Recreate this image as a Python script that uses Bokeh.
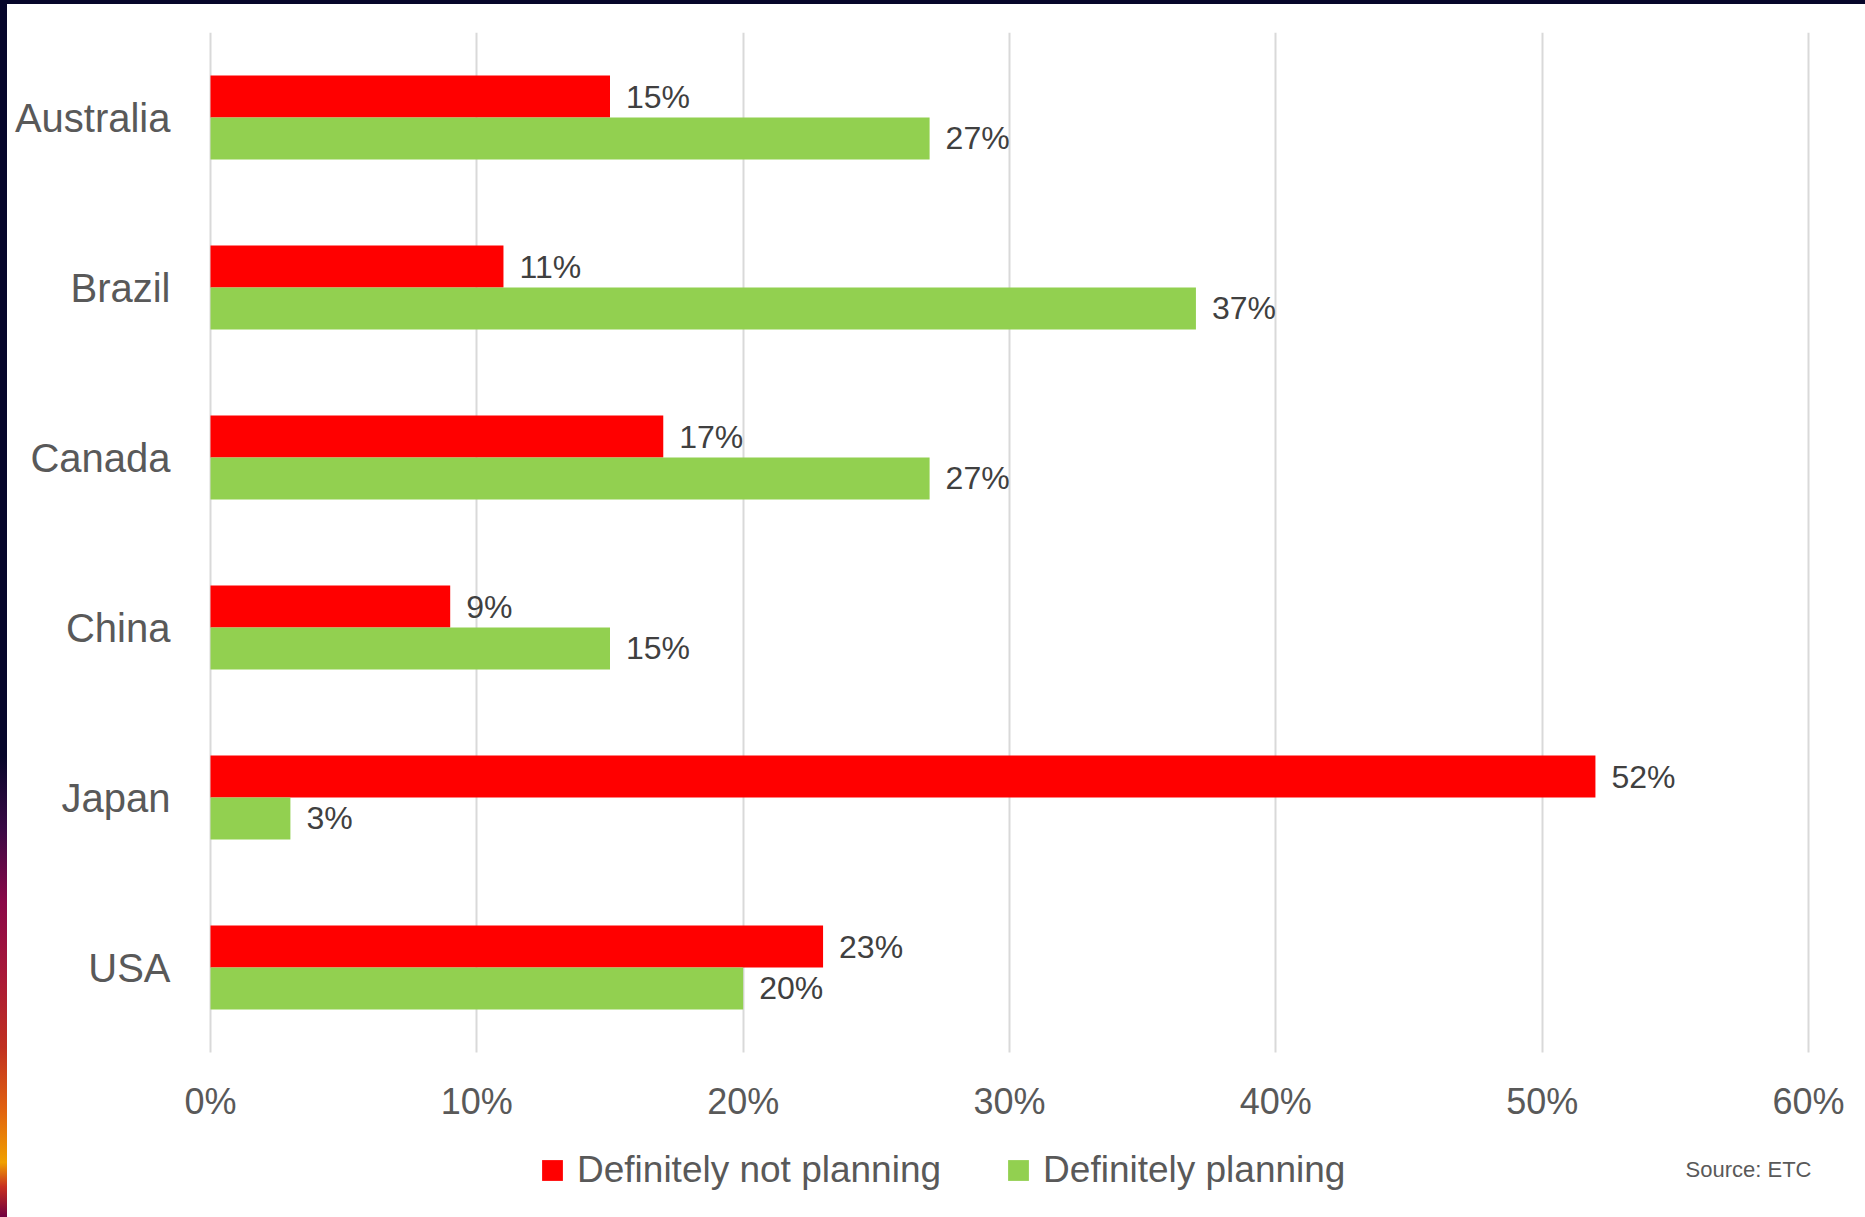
from bokeh.plotting import figure
from bokeh.models import (Range1d, Legend, LegendItem, Label, ColumnDataSource,
                          NumeralTickFormatter, FixedTicker, Div, BoxAnnotation)
from bokeh.embed import file_html
from bokeh.resources import INLINE
from bokeh.core.properties import value
from bokeh.layouts import column, row

# Survey shares per market
countries = ["Australia", "Brazil", "Canada", "China", "Japan", "USA"]
not_planning = [0.15, 0.11, 0.17, 0.09, 0.52, 0.23]
planning = [0.27, 0.37, 0.27, 0.15, 0.03, 0.20]
x_ticks = [0.0, 0.1, 0.2, 0.3, 0.4, 0.5, 0.6]
series_names = ["Definitely not planning", "Definitely planning"]
source_note = "Source: ETC"

FONT = "Liberation Sans"
AXIS_GREY = "#595959"
LABEL_GREY = "#404040"
RED = "#ff0000"
GREEN = "#92d050"

# page geometry (pixels inside the figure)
FIG_W, FIG_H = 1858, 1213
TOP = 28
FRAME_LEFT = 173          # frame starts a little left of the 0% line
ZERO_PX = 203             # where 0% falls
MAX_PX = 1801             # where 60% falls
BAND_PX = 170             # height of one country band
n = len(countries)

x_lo, x_hi = x_ticks[0], x_ticks[-1]
px_per_unit = (MAX_PX - ZERO_PX) / (x_hi - x_lo)
x_start = x_lo - (ZERO_PX - FRAME_LEFT) / px_per_unit
x_end = x_hi + (FIG_W - MAX_PX) / px_per_unit

# one band per country, first country at the top
centers = [n - i - 0.5 for i in range(n)]
BAR_H = 0.247
SHIFT = BAR_H / 2

src = ColumnDataSource(dict(
    y_np=[c + SHIFT for c in centers],
    y_p=[c - SHIFT for c in centers],
    not_planning=not_planning,
    planning=planning,
    np_label=[f"{round(v * 100)}%" for v in not_planning],
    p_label=[f"{round(v * 100)}%" for v in planning],
))

# the frame runs to the bottom edge; the area under y=0 holds the axis and legend
y_bottom = n - (FIG_H - TOP) / BAND_PX

p = figure(
    width=FIG_W, height=FIG_H,
    x_range=Range1d(x_start, x_end),
    y_range=Range1d(y_bottom, n),
    output_backend="svg", toolbar_location=None,
    min_border_left=FRAME_LEFT, min_border_right=0,
    min_border_top=TOP, min_border_bottom=0,
    background_fill_color="white", border_fill_color="white",
)
p.outline_line_color = None

r_np = p.hbar(y="y_np", left=0, right="not_planning", height=BAR_H, source=src,
              fill_color=RED, line_color=None)
r_p = p.hbar(y="y_p", left=0, right="planning", height=BAR_H, source=src,
             fill_color=GREEN, line_color=None)

for xcol, ycol, tcol in (("not_planning", "y_np", "np_label"), ("planning", "y_p", "p_label")):
    p.text(x=xcol, y=ycol, text=tcol, source=src, x_offset=16,
           text_align="left", text_baseline="middle",
           text_font=value(FONT), text_font_size="32px", text_color=LABEL_GREY)

# x axis sits on y=0, under the last band
p.xaxis.fixed_location = 0
p.xaxis.ticker = FixedTicker(ticks=x_ticks)
p.xaxis.formatter = NumeralTickFormatter(format="0%")
p.xaxis.axis_line_color = None
p.xaxis.major_tick_line_color = None
p.xaxis.major_tick_out = 0
p.xaxis.major_tick_in = 0
p.xaxis.minor_tick_line_color = None
p.xaxis.major_label_text_font = FONT
p.xaxis.major_label_text_font_size = "36px"
p.xaxis.major_label_text_color = AXIS_GREY
p.xaxis.major_label_standoff = 28

# y axis: one label per country band
p.yaxis.ticker = FixedTicker(ticks=centers)
p.yaxis.major_label_overrides = {c: name for c, name in zip(centers, countries)}
p.yaxis.axis_line_color = None
p.yaxis.major_tick_line_color = None
p.yaxis.major_tick_out = 0
p.yaxis.major_tick_in = 0
p.yaxis.minor_tick_line_color = None
p.yaxis.major_label_text_font = FONT
p.yaxis.major_label_text_font_size = "40px"
p.yaxis.major_label_text_color = AXIS_GREY
p.yaxis.major_label_standoff = 40 - (ZERO_PX - FRAME_LEFT)

p.xgrid.grid_line_color = "#d9d9d9"
p.xgrid.grid_line_width = 2
p.ygrid.grid_line_color = None

# keep the vertical gridlines above the axis only
p.add_layout(BoxAnnotation(top=0, fill_color="white", fill_alpha=1.0,
                           line_color=None, level="underlay"))

legend = Legend(
    items=[LegendItem(label=series_names[0], renderers=[r_np]),
           LegendItem(label=series_names[1], renderers=[r_p])],
    orientation="horizontal", location=(ZERO_PX - FRAME_LEFT + 329, 26),
    glyph_width=26, glyph_height=26, label_standoff=12, spacing=64,
    padding=0, margin=0, border_line_color=None, background_fill_alpha=0,
    label_text_font=FONT, label_text_font_size="37px", label_text_color=AXIS_GREY,
    label_height=26,
)
p.add_layout(legend, "center")

p.add_layout(Label(x=x_hi, x_units="data", y=48, y_units="screen", x_offset=3,
                   text=source_note, text_align="right", text_baseline="middle",
                   text_font=FONT, text_font_size="22px", text_color=AXIS_GREY))

top_strip = Div(width=1865, height=4, margin=0,
                styles={"background": "#06062a"})
left_strip = Div(width=7, height=FIG_H, margin=0,
                 styles={"background": "linear-gradient(to bottom, #06062a 0%, #06062a 62%, "
                                       "#3a0a45 68%, #8a0848 74%, #a81838 80%, #c03020 86%, "
                                       "#e06010 91%, #f0a000 95.5%, #c83020 97.5%, "
                                       "#700040 100%)"})

layout = column(top_strip, row(left_strip, p, spacing=0), spacing=0)

with open("out.html", "w") as f:
    f.write(file_html(layout, INLINE))
